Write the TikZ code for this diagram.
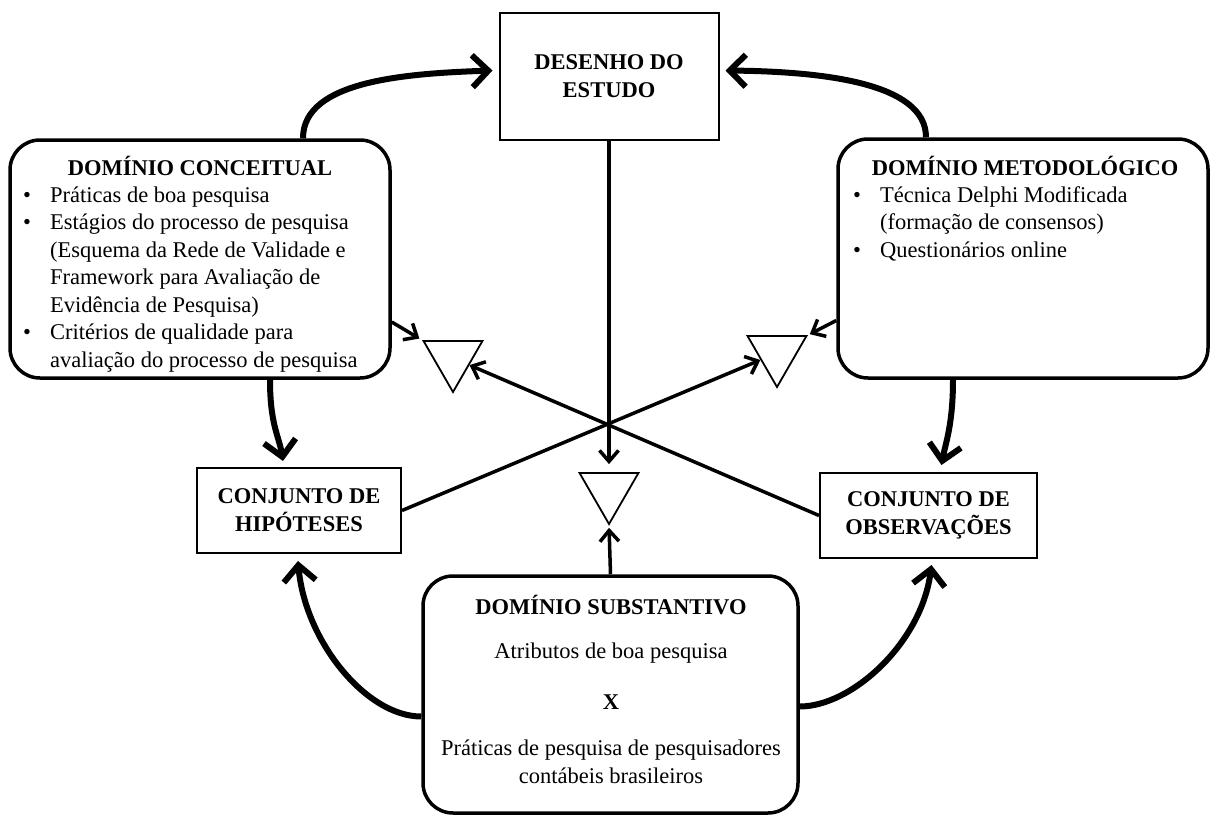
\documentclass[tikz,border=0pt]{standalone}
\usepackage{fontspec}
\setmainfont{Liberation Serif}
\usetikzlibrary{arrows.meta,calc,shapes.geometric}
\begin{document}
\begin{tikzpicture}[x=1pt,y=-1pt,
  box/.style={draw, line width=2pt, inner sep=0pt, align=center,
    font=\fontsize{22.5}{28}\selectfont\bfseries},
  rbox/.style={draw, line width=3.5pt, rounded corners=30pt, inner sep=0pt},
  tri/.style={draw, line width=1.8pt, regular polygon, regular polygon sides=3,
    shape border rotate=180, minimum size=68pt, inner sep=0pt},
  txt/.style={font=\fontsize{22.5}{27.5}\selectfont, inner sep=0pt},
  ttl/.style={font=\fontsize{22.5}{27.5}\selectfont\bfseries, inner sep=0pt},
  bigarrow/.style={line width=6pt, -{Straight Barb[length=16pt,width=32pt]}},
  midarrow/.style={line width=3.5pt, -{Straight Barb[length=11pt,width=19pt]}}
]
\useasboundingbox (0,0) rectangle (1211,816);

% boxes
\node[box, minimum width=219pt, minimum height=127pt] (des) at (609,76.5) {DESENHO DO\\ESTUDO};
\node[rbox, minimum width=380pt, minimum height=238pt] (conc) at (200,259) {};
\node[rbox, minimum width=370pt, minimum height=239pt] (meto) at (1023,258.5) {};
\node[box, minimum width=204pt, minimum height=85pt] (hip) at (299,510.5) {CONJUNTO DE\\HIPÓTESES};
\node[box, minimum width=217pt, minimum height=85pt] (obs) at (928.5,515.5) {CONJUNTO DE\\OBSERVAÇÕES};
\node[rbox, minimum width=375pt, minimum height=237pt] (sub) at (610.5,694.5) {};

% triangles
\node[tri] (t1) at (453,358) {};
\node[tri] (t2) at (777,353) {};
\node[tri] (t3) at (609,490) {};

% conceitual text
\node[ttl, anchor=base] (ct) at (200,175.5) {DOMÍNIO CONCEITUAL};
\node[txt, anchor=base] (cb1) at (27,202) {•};
\node[txt, anchor=base] (cb2) at (27,229.5) {•};
\node[txt, anchor=base] (cb3) at (27,339.5) {•};
\node[txt, anchor=base west] (c1) at (50,202) {Práticas de boa pesquisa};
\node[txt, anchor=base west] (c2) at (50,229.5) {Estágios do processo de pesquisa};
\node[txt, anchor=base west] (c3) at (50,257) {(Esquema da Rede de Validade e};
\node[txt, anchor=base west] (c4) at (50,284.5) {Framework para Avaliação de};
\node[txt, anchor=base west] (c5) at (50,312) {Evidência de Pesquisa)};
\node[txt, anchor=base west] (c6) at (50,339.5) {Critérios de qualidade para};
\node[txt, anchor=base west] (c7) at (50,367) {avaliação do processo de pesquisa};

% metodologico text
\node[ttl, anchor=base] (mt) at (1025,175.5) {DOMÍNIO METODOLÓGICO};
\node[txt, anchor=base] (mb1) at (857,202) {•};
\node[txt, anchor=base] (mb2) at (857,257) {•};
\node[txt, anchor=base west] (m1) at (880,202) {Técnica Delphi Modificada};
\node[txt, anchor=base west] (m2) at (880,229.5) {(formação de consensos)};
\node[txt, anchor=base west] (m3) at (880,257) {Questionários online};

% substantivo text
\node[ttl, anchor=base] (st) at (611,614.5) {DOMÍNIO SUBSTANTIVO};
\node[txt, anchor=base] (s1) at (611,658) {Atributos de boa pesquisa};
\node[ttl, anchor=base] (s2) at (611,709.5) {X};
\node[txt, anchor=base] (s3) at (611,755) {Práticas de pesquisa de pesquisadores};
\node[txt, anchor=base] (s4) at (611,783) {contábeis brasileiros};

% curved connectors
\draw[bigarrow] ($(conc.north)+(103,0)$) .. controls +(0,-58) and +(-85,3) .. ($(des.west)+(-6,-6)$);
\draw[bigarrow] ($(meto.north)+(-97,0)$) .. controls +(0,-55) and +(95,1) .. ($(des.east)+(6,-6)$);
\draw[bigarrow] ($(conc.south)+(70,0)$) .. controls +(0,45) and +(-4,-25) .. ($(hip.north)+(-16,-6)$);
\draw[bigarrow] ($(meto.south)+(-70,0)$) .. controls +(0,45) and +(4,-22) .. ($(obs.north)+(13,-7)$);
\draw[bigarrow] ($(sub.west)+(0,22)$) .. controls +(-55,0) and +(7,80) .. ($(hip.south)+(-1,7)$);
\draw[bigarrow] ($(sub.east)+(0,12)$) .. controls +(52,0) and +(-10,78) .. ($(obs.south)+(3,6)$);

% straight connectors
\draw[midarrow, shorten >=8pt] (des.south) -- (t3.north);
\draw[midarrow, shorten >=2pt] (sub.north) -- (t3.corner 1);
\draw[midarrow] (hip.east) -- (t2);
\draw[midarrow] (obs.west) -- (t1);
\draw[midarrow, shorten >=3pt] ($(conc.east)+(0,63)$) -- (t1.corner 3);
\draw[midarrow, shorten >=2pt] ($(meto.west)+(0,62)$) -- (t2.corner 2);
\end{tikzpicture}
\end{document}
